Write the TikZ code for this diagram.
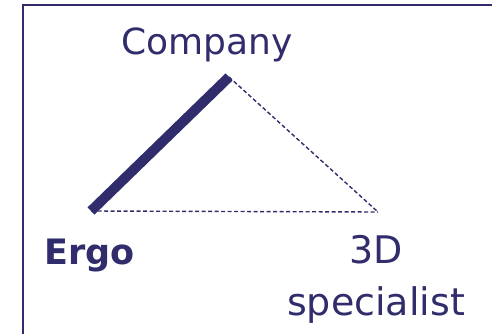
\documentclass[tikz,border=0pt]{standalone}
\usepackage{fontspec}
\usepackage{xcolor}
\setmainfont{DejaVu Sans}
\definecolor{navy}{HTML}{312C6B}

\begin{document}
\begin{tikzpicture}[x=1pt, y=-1pt,
  lbl/.style={text=navy, inner sep=0pt, font=\fontsize{36}{50}\selectfont},
  strong/.style={draw=navy, line width=10pt},
  weak/.style={draw=navy, dash pattern=on 4pt off 2.5pt, line width=1.4pt}
]
  \useasboundingbox (0,0) rectangle (492,334);
  % Frame
  \draw[navy, line width=2.5pt] (23,5) rectangle (520,360);
  % Corners of the triangle
  \coordinate (top)   at (229,77);
  \coordinate (left)  at (91,211);
  \coordinate (right) at (378,212);
  % Labels
  \node[lbl, anchor=base] (company) at (207,55) {Company};
  \node[lbl, anchor=base west, font=\fontsize{35}{50}\selectfont\bfseries] (ergo) at (44,264) {Ergo};
  \node[lbl, anchor=north, align=center, font=\fontsize{38}{52}\selectfont] (spec) at (376,235) {3D\\specialist};

  \draw[weak]   (left)  -- (right);
  \draw[weak]   (top)   -- (right);
  \draw[strong] (left)  -- (top);
\end{tikzpicture}
\end{document}
